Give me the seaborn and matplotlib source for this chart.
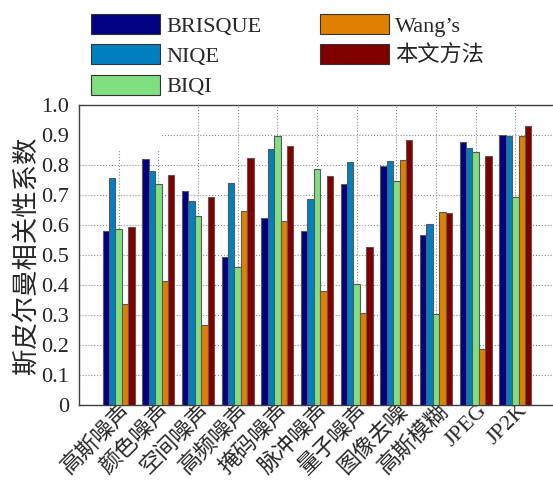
import numpy as np
import pandas as pd
import seaborn as sns
import matplotlib.pyplot as plt
from matplotlib.patches import Patch, Rectangle
from matplotlib.transforms import ScaledTranslation

sns.set_style("white")
plt.rcParams['font.family'] = ['Liberation Serif', 'Noto Sans CJK SC']

# distortion types on the x axis
categories = ['高斯噪声', '颜色噪声', '空间噪声', '高频噪声', '掩码噪声', '脉冲噪声',
              '量子噪声', '图像去噪', '高斯模糊', 'JPEG', 'JP2K']
methods = ['BRISQUE', 'NIQE', 'BIQI', 'Wang’s', '本文方法']

# SROCC per method
brisque = [0.581, 0.820, 0.712, 0.494, 0.622, 0.581, 0.738, 0.798, 0.568, 0.876, 0.901]
niqe    = [0.757, 0.779, 0.679, 0.741, 0.854, 0.687, 0.811, 0.814, 0.603, 0.856, 0.896]
biqi    = [0.587, 0.738, 0.630, 0.459, 0.896, 0.787, 0.403, 0.747, 0.302, 0.844, 0.693]
wang    = [0.336, 0.413, 0.267, 0.646, 0.613, 0.379, 0.306, 0.817, 0.642, 0.186, 0.896]
ours    = [0.592, 0.766, 0.692, 0.824, 0.864, 0.764, 0.527, 0.883, 0.639, 0.830, 0.929]

colors = ['#000080', '#0080C0', '#80E080', '#E08000', '#800000']

df = pd.DataFrame({'类型': categories, 'BRISQUE': brisque, 'NIQE': niqe,
                   'BIQI': biqi, 'Wang’s': wang, '本文方法': ours})
df = df.melt(id_vars='类型', var_name='方法', value_name='SROCC')

fig = plt.figure(figsize=(5.53, 4.88), dpi=100)
ax = fig.add_axes([79/553, 83/488, 476/553, 300/488])

sns.barplot(data=df, x='类型', y='SROCC', hue='方法', hue_order=methods,
            palette=colors, saturation=1, width=0.8, edgecolor='0.35',
            linewidth=0.8, legend=False, ax=ax, zorder=3)

ax.set_xlim(-1, 11)
ax.set_ylim(0, 1)
ax.set_yticks(np.arange(0, 1.01, 0.1))
ax.set_yticklabels(['0'] + ['%.1f' % v for v in np.arange(0.1, 1.01, 0.1)])
ax.grid(True, linestyle=':', color='0.55', linewidth=0.8)
ax.set_axisbelow(True)
# blank patch in the upper left corner of the plot area
ax.add_patch(Rectangle((-1, 0.85), 2.05, 0.15, facecolor='white',
                       edgecolor='none', zorder=1.5))

ax.tick_params(axis='y', length=0, labelsize=16, pad=7)
ax.tick_params(axis='x', length=0, pad=2)
ax.set_xticks(range(len(categories)))
ax.set_xticklabels(categories, rotation=45, ha='right', va='center',
                   rotation_mode='anchor', fontsize=16)
shift = ScaledTranslation(9/100, 0, fig.dpi_scale_trans)
for lab in ax.get_xticklabels():
    lab.set_transform(lab.get_transform() + shift)

ax.set_xlabel('')
ax.set_ylabel('斯皮尔曼相关性系数', fontsize=19, labelpad=2)

for s in ax.spines.values():
    s.set_visible(True)
    s.set_color('0.25')
    s.set_linewidth(1.0)

handles = [Patch(facecolor=c, edgecolor='0.2', linewidth=0.8) for c in colors]
fig.legend(handles, methods, ncol=2, loc='upper left',
           bbox_to_anchor=(80/553, 1 - 3/488), frameon=False, fontsize=16,
           handlelength=3.1, handleheight=1.0, handletextpad=0.3,
           labelspacing=0.35, columnspacing=2.6, borderpad=0)

fig.savefig('out.png', dpi=100)
